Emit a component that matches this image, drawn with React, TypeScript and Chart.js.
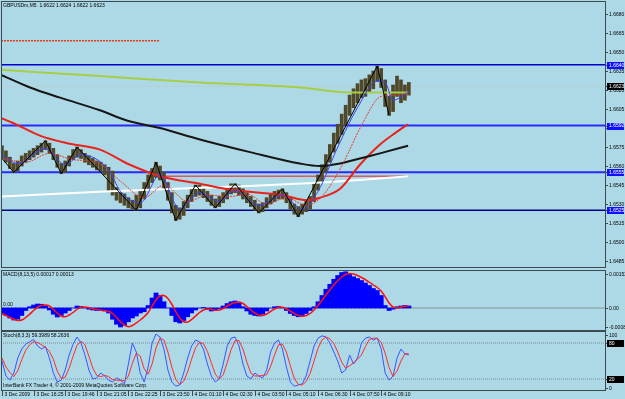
import React, { useEffect, useRef } from "react";
import { Chart, registerables } from "chart.js";
Chart.register(...registerables);

// ---------- DATA (10-minute bars, index 0..103) ----------
const HIGH = [1.6576,1.6572,1.6567,1.6562,1.6564,1.6568,1.6570,1.6572,1.6574,1.6576,1.6578,1.6580,1.6578,1.6574,1.6569,1.6562,1.6564,1.6568,1.6573,1.6575,1.6573,1.6570,1.6568,1.6566,1.6564,1.6563,1.6561,1.6559,1.6556,1.6543,1.6539,1.6538,1.6535,1.6533,1.6537,1.6541,1.6547,1.6553,1.6558,1.6563,1.6560,1.6555,1.6547,1.6539,1.6529,1.6527,1.6532,1.6537,1.6542,1.6545,1.6545,1.6543,1.6540,1.6537,1.6534,1.6536,1.6539,1.6543,1.6546,1.6546,1.6545,1.6542,1.6539,1.6536,1.6533,1.6530,1.6531,1.6535,1.6538,1.6540,1.6541,1.6542,1.6539,1.6535,1.6530,1.6528,1.6530,1.6532,1.6536,1.6546,1.6553,1.6561,1.6569,1.6577,1.6586,1.6593,1.6601,1.6608,1.6616,1.6621,1.6625,1.6628,1.6629,1.6632,1.6635,1.6639,1.6637,1.6628,1.6615,1.6624,1.6631,1.6628,1.6624,1.6626];
const LOW = [1.6566,1.6563,1.6558,1.6555,1.6556,1.6560,1.6563,1.6565,1.6567,1.6569,1.6571,1.6573,1.6570,1.6565,1.6559,1.6554,1.6555,1.6560,1.6565,1.6567,1.6566,1.6563,1.6561,1.6559,1.6557,1.6556,1.6553,1.6540,1.6537,1.6533,1.6531,1.6529,1.6527,1.6526,1.6525,1.6527,1.6534,1.6541,1.6547,1.6551,1.6549,1.6542,1.6533,1.6523,1.6517,1.6518,1.6521,1.6527,1.6532,1.6536,1.6537,1.6535,1.6532,1.6529,1.6527,1.6528,1.6531,1.6534,1.6538,1.6539,1.6537,1.6534,1.6531,1.6528,1.6525,1.6523,1.6524,1.6527,1.6530,1.6532,1.6534,1.6534,1.6531,1.6526,1.6522,1.6520,1.6522,1.6524,1.6526,1.6532,1.6541,1.6547,1.6555,1.6563,1.6571,1.6578,1.6585,1.6592,1.6600,1.6606,1.6610,1.6614,1.6615,1.6618,1.6621,1.6627,1.6622,1.6607,1.6600,1.6603,1.6615,1.6610,1.6612,1.6616];

const ZZ_IDX = [0, 3, 11, 15, 19, 34, 39, 44, 49, 54, 59, 65, 71, 75, 95, 98];
const ZZ_VAL = [1.6566, 1.6555, 1.6580, 1.6554, 1.6575, 1.6525, 1.6563, 1.6517, 1.6545, 1.6527, 1.6546, 1.6523, 1.6542, 1.6520, 1.6639, 1.6600];

const MA_FAST_IDX = [0, 4, 11, 16, 20, 27, 30, 35, 40, 45, 50, 55, 59, 65, 71, 76, 80, 85, 90, 95, 97, 99, 103];
const MA_FAST = [1.6569, 1.6562, 1.6574, 1.6561, 1.6569, 1.6557, 1.6540, 1.6531, 1.6553, 1.6526, 1.6539, 1.6532, 1.6541, 1.6529, 1.6537, 1.6526, 1.6540, 1.6575, 1.6606, 1.6627, 1.6626, 1.6612, 1.6619];
const MA_MID_IDX = [0, 6, 12, 18, 24, 30, 36, 41, 47, 52, 58, 62, 67, 72, 77, 81, 86, 91, 96, 100, 103];
const MA_MID = [1.6566, 1.6563, 1.6570, 1.6565, 1.6563, 1.6548, 1.6535, 1.6545, 1.6532, 1.6537, 1.6536, 1.6538, 1.6530, 1.6535, 1.6529, 1.6536, 1.6560, 1.6592, 1.6615, 1.6616, 1.6617];
const MA_BLACK_IDX = [-0.25, 7.1, 14.7, 24.8, 31.6, 40, 50.1, 62.8, 75.4, 80.5, 85.6, 90.6, 95.7, 102.8];
const MA_BLACK = [1.6632, 1.6622, 1.6614, 1.6604, 1.6596, 1.6590, 1.6581, 1.6571, 1.6562, 1.6560, 1.6562, 1.6566, 1.6570, 1.6576];
const MA_RED_IDX = [-0.25, 2.8, 9.6, 16.5, 24.8, 32.4, 40, 50.1, 58.5, 71.1, 77.2, 80.5, 85.6, 90.6, 95.7, 99.5, 102.8];
const MA_RED = [1.6598, 1.6594, 1.6584, 1.6578, 1.6573, 1.6561, 1.6552, 1.6546, 1.6541, 1.6537, 1.6533, 1.6535, 1.6542, 1.6561, 1.6577, 1.6586, 1.6593];
const MA_WHITE_IDX = [-0.25, 27.3, 80.5, 102.8];
const MA_WHITE = [1.6536, 1.6540, 1.6547, 1.6552];
const MA_GREEN_IDX = [-0.25, 24.8, 50.1, 75.4, 88.1, 102.8];
const MA_GREEN = [1.6636, 1.6631, 1.6626, 1.6622, 1.6618, 1.6618];

const LEVELS = [1.6640, 1.6592, 1.6555, 1.6525];
const LEVEL_COLORS = ["#0000d0", "#2a2aff", "#2a2aff", "#000088"];
const LEVEL_WIDTHS = [1.5, 2, 2, 1.5];
const LAST_PRICE = 1.6623;
const RED_DOT_LEVEL = 1.6659;
const RED_DOT_RANGE = [-0.25, 40];
const RED_THIN_LEVEL = 1.6552;
const RED_THIN_RANGE = [37, 102.8];

const MAIN_TICKS = [1.6680, 1.6665, 1.6650, 1.6635, 1.6620, 1.6605, 1.6590, 1.6575, 1.6560, 1.6545, 1.6530, 1.6515, 1.6500, 1.6485];

const MACD_HIST = [-0.00025,-0.00030,-0.00040,-0.00048,-0.00045,-0.00030,-0.00010,0.00005,0.00012,0.00016,0.00015,0.00008,-0.00008,-0.00025,-0.00036,-0.00030,-0.00020,-0.00010,0.00000,0.00008,0.00006,0.00000,-0.00005,-0.00008,-0.00010,-0.00010,-0.00012,-0.00020,-0.00045,-0.00065,-0.00076,-0.00070,-0.00055,-0.00040,-0.00032,-0.00020,-0.00015,0.00010,0.00040,0.00060,0.00050,0.00025,0.00000,-0.00030,-0.00055,-0.00060,-0.00050,-0.00035,-0.00020,-0.00008,0.00000,0.00002,-0.00005,-0.00012,-0.00010,-0.00002,0.00008,0.00018,0.00025,0.00028,0.00020,0.00005,-0.00012,-0.00025,-0.00030,-0.00032,-0.00025,-0.00012,0.00000,0.00005,0.00006,0.00000,-0.00010,-0.00022,-0.00030,-0.00035,-0.00032,-0.00022,-0.00010,0.00005,0.00025,0.00050,0.00075,0.00095,0.00115,0.00130,0.00142,0.00145,0.00135,0.00125,0.00118,0.00110,0.00100,0.00090,0.00078,0.00070,0.00050,0.00010,-0.00010,-0.00005,0.00005,0.00008,0.00010,0.00008];
const MACD_SIGNAL = [-0.00022,-0.00030,-0.00038,-0.00045,-0.00050,-0.00048,-0.00038,-0.00025,-0.00010,0.00003,0.00010,0.00012,0.00008,-0.00005,-0.00020,-0.00032,-0.00035,-0.00028,-0.00018,-0.00005,0.00003,0.00004,0.00001,-0.00003,-0.00006,-0.00008,-0.00010,-0.00013,-0.00022,-0.00038,-0.00055,-0.00068,-0.00075,-0.00070,-0.00060,-0.00048,-0.00035,-0.00018,0.00008,0.00032,0.00048,0.00050,0.00038,0.00015,-0.00015,-0.00040,-0.00055,-0.00056,-0.00046,-0.00032,-0.00018,-0.00008,-0.00004,-0.00006,-0.00009,-0.00008,-0.00002,0.00008,0.00016,0.00022,0.00024,0.00018,0.00006,-0.00008,-0.00020,-0.00028,-0.00030,-0.00024,-0.00014,-0.00004,0.00002,0.00003,-0.00003,-0.00012,-0.00022,-0.00030,-0.00033,-0.00030,-0.00022,-0.00008,0.00010,0.00030,0.00052,0.00072,0.00092,0.00110,0.00124,0.00134,0.00138,0.00136,0.00130,0.00122,0.00113,0.00103,0.00092,0.00082,0.00068,0.00045,0.00020,0.00004,0.00000,0.00004,0.00007,0.00008];
const MACD_TICKS = [0.00152, 0, -0.00086];
const MACD_TICK_LABELS = ["0.00152", "0.00", "-0.00086"];

const STOCH_MAIN = [50,25,18,30,55,70,78,82,86,75,70,74,55,30,15,18,35,60,78,90,80,60,35,20,22,30,25,18,15,22,18,12,45,80,65,30,15,40,80,95,90,70,35,15,8,10,30,55,75,85,82,70,45,25,15,20,45,75,88,90,75,45,25,20,30,25,22,35,65,80,85,70,40,15,8,10,12,25,50,75,88,92,90,80,65,50,30,35,60,45,55,80,88,90,85,88,70,30,18,25,55,70,62,60];
const STOCH_SIGNAL = [55,40,31,24,34,52,68,77,82,81,77,73,66,53,33,21,23,38,58,76,83,77,58,38,26,24,26,24,19,18,18,17,25,46,63,58,37,28,45,72,88,85,65,40,19,11,16,32,53,72,81,79,66,47,28,20,27,47,69,84,84,70,48,30,25,25,26,27,41,60,77,78,65,42,21,11,10,16,29,50,71,85,90,87,79,65,48,38,42,47,53,60,74,86,88,88,81,63,39,24,33,50,62,62];
const STOCH_TICKS = [100, 80, 20, 0];

const X_TICK_IDX = [0, 8, 16, 24, 32, 40, 48, 56, 64, 72, 80, 88, 96];
const X_TICK_LABELS = ["3 Dec 2009", "3 Dec 16:25", "3 Dec 19:46", "3 Dec 21:05", "3 Dec 22:25", "3 Dec 23:50", "4 Dec 01:10", "4 Dec 02:30", "4 Dec 03:50", "4 Dec 05:10", "4 Dec 06:30", "4 Dec 07:50", "4 Dec 09:10"];

const TITLE = "GBPUSDm,M5  1.6622 1.6624 1.6622 1.6623";
const MACD_TITLE = "MACD(8,13,5) 0.00017 0.00013";
const STOCH_TITLE = "Stoch(8,3,3) 59.3989 58.2636";
const COPYRIGHT = "InterBank FX Trader 4, \u00a9 2001-2009 MetaQuotes Software Corp.";

// ---------- STYLE ----------
const BG = "#ADD8E6";
const BORDER = "#3c4a52";
const FONT = '5px "Liberation Sans", Arial, sans-serif';
const X_MIN = -0.25;
const X_MAX = 152.91;

const pts = (xs: number[], ys: number[]) => xs.map((x, i) => ({ x, y: ys[i] }));
const hline = (v: number, a = X_MIN, b = X_MAX) => [{ x: a, y: v }, { x: b, y: v }];

function drawFrame(chart: any) {
  const { ctx, chartArea: a } = chart;
  ctx.save();
  ctx.strokeStyle = BORDER;
  ctx.lineWidth = 1;
  ctx.strokeRect(Math.round(a.left) + 0.5, Math.round(a.top) + 0.5, Math.round(a.right - a.left) - 1, Math.round(a.bottom - a.top) - 1);
  ctx.restore();
}

function rightLabel(chart: any, py: number, text: string, box?: string) {
  const { ctx, chartArea: a } = chart;
  ctx.save();
  ctx.font = FONT;
  ctx.textBaseline = "middle";
  ctx.strokeStyle = BORDER;
  ctx.lineWidth = 1;
  ctx.beginPath();
  ctx.moveTo(a.right - 1, Math.round(py) + 0.5);
  ctx.lineTo(a.right + 2, Math.round(py) + 0.5);
  ctx.stroke();
  if (box) {
    ctx.fillStyle = box;
    ctx.fillRect(a.right + 1, Math.round(py) - 3, 17, 7);
    ctx.fillStyle = "#ffffff";
  } else {
    ctx.fillStyle = "#000000";
  }
  ctx.fillText(text, a.right + 3, py + 0.5);
  ctx.restore();
}

const baseOptions = (yMin: number, yMax: number, pad: { top: number; bottom: number }) => ({
  animation: false as const,
  responsive: false,
  maintainAspectRatio: false,
  events: [] as any[],
  layout: { padding: { left: 1, right: 19, top: pad.top, bottom: pad.bottom } },
  plugins: { legend: { display: false }, tooltip: { enabled: false } },
  scales: {
    x: { type: "linear" as const, display: false, min: X_MIN, max: X_MAX, offset: false },
    y: { type: "linear" as const, display: false, min: yMin, max: yMax },
  },
});

const lineDs = (data: any[], color: string, width: number, order: number, extra: any = {}) => ({
  type: "line" as const,
  data,
  borderColor: color,
  borderWidth: width,
  pointRadius: 0,
  fill: false,
  order,
  ...extra,
});

const smooth = { tension: 0.4, cubicInterpolationMode: "monotone" };

export default function App() {
  const mainRef = useRef<HTMLCanvasElement>(null);
  const macdRef = useRef<HTMLCanvasElement>(null);
  const stochRef = useRef<HTMLCanvasElement>(null);

  useEffect(() => {
    const charts: Chart[] = [];

    // ---- MAIN ----
    const mainDecor = {
      id: "mainDecor",
      afterDraw(chart: any) {
        drawFrame(chart);
        const y = chart.scales.y;
        MAIN_TICKS.forEach((v) => rightLabel(chart, y.getPixelForValue(v), v.toFixed(4)));
        LEVELS.forEach((v) => rightLabel(chart, y.getPixelForValue(v), v.toFixed(4), "#1010ff"));
        rightLabel(chart, y.getPixelForValue(LAST_PRICE), LAST_PRICE.toFixed(4), "#000000");
        const { ctx } = chart;
        ctx.save();
        ctx.font = FONT;
        ctx.fillStyle = "#000";
        ctx.textBaseline = "middle";
        ctx.fillText(TITLE, 3, 6);
        ctx.restore();
      },
    };
    charts.push(
      new Chart(mainRef.current!, {
        type: "line",
        data: {
          datasets: [
            lineDs(pts(ZZ_IDX, ZZ_VAL), "#000000", 1, 0),
            lineDs(pts(MA_FAST_IDX, MA_FAST), "#3c46f0", 1, 1, smooth),
            lineDs(pts(MA_MID_IDX, MA_MID), "#e83a2a", 1, 1, { ...smooth, borderDash: [2, 1] }),
            lineDs(pts(MA_GREEN_IDX, MA_GREEN), "#a6cf45", 2, 2, smooth),
            lineDs(pts(MA_BLACK_IDX, MA_BLACK), "#161616", 2, 2, smooth),
            lineDs(pts(MA_RED_IDX, MA_RED), "#e8231b", 2, 2, smooth),
            lineDs(pts(MA_WHITE_IDX, MA_WHITE), "#ffffff", 2, 2, smooth),
            {
              type: "bar" as const,
              data: HIGH.map((h, i) => ({ x: i, y: [LOW[i], h] })),
              backgroundColor: "#4f4829",
              borderWidth: 0,
              barThickness: 3,
              grouped: false,
              order: 3,
            },
            lineDs(hline(RED_DOT_LEVEL, RED_DOT_RANGE[0], RED_DOT_RANGE[1]), "#f03a10", 1.5, 4, { borderDash: [2, 1] }),
            lineDs(hline(RED_THIN_LEVEL, RED_THIN_RANGE[0], RED_THIN_RANGE[1]), "#e02020", 1, 4),
            lineDs(hline(LAST_PRICE), "#c4c4c4", 1, 5, { borderDash: [1, 1] }),
            ...LEVELS.map((v, i) => lineDs(hline(v), LEVEL_COLORS[i], LEVEL_WIDTHS[i], 5)),
          ] as any,
        },
        options: baseOptions(1.64795, 1.66903, { top: 1, bottom: 7 }) as any,
        plugins: [mainDecor],
      })
    );

    // ---- MACD ----
    const macdDecor = {
      id: "macdDecor",
      afterDraw(chart: any) {
        drawFrame(chart);
        const { ctx, chartArea: a } = chart;
        const y = chart.scales.y;
        MACD_TICKS.forEach((v, i) => {
          let py = y.getPixelForValue(v);
          py = Math.max(a.top + 4, Math.min(a.bottom - 4, py));
          rightLabel(chart, py, MACD_TICK_LABELS[i]);
        });
        ctx.save();
        ctx.font = FONT;
        ctx.fillStyle = "#000";
        ctx.textBaseline = "middle";
        ctx.fillText(MACD_TITLE, 3, a.top + 5);
        ctx.fillText("0.00", 3, y.getPixelForValue(0) - 3);
        ctx.restore();
      },
    };
    charts.push(
      new Chart(macdRef.current!, {
        type: "line",
        data: {
          datasets: [
            lineDs(pts(MACD_SIGNAL.map((_, i) => i), MACD_SIGNAL), "#ff1010", 1.5, 0, { tension: 0.3 }),
            {
              type: "bar" as const,
              data: MACD_HIST.map((v, i) => ({ x: i, y: v })),
              backgroundColor: "#0000ff",
              borderWidth: 0,
              barThickness: 4.2,
              grouped: false,
              order: 1,
            },
            lineDs(hline(0), "#8696a0", 1, 2),
          ] as any,
        },
        options: baseOptions(-0.00092, 0.00152, { top: 8, bottom: 6 }) as any,
        plugins: [macdDecor],
      })
    );

    // ---- STOCH ----
    const stochDecor = {
      id: "stochDecor",
      afterDraw(chart: any) {
        drawFrame(chart);
        const { ctx, chartArea: a } = chart;
        const y = chart.scales.y;
        const x = chart.scales.x;
        STOCH_TICKS.forEach((v) => {
          let py = y.getPixelForValue(v);
          py = Math.max(a.top + 4, Math.min(a.bottom - 3, py));
          rightLabel(chart, py, String(v), v === 80 || v === 20 ? "#000000" : undefined);
        });
        ctx.save();
        ctx.font = FONT;
        ctx.fillStyle = "#000";
        ctx.textBaseline = "middle";
        ctx.fillText(STOCH_TITLE, 3, a.top + 5);
        ctx.fillText(COPYRIGHT, 3, a.bottom - 5);
        ctx.strokeStyle = BORDER;
        ctx.lineWidth = 1;
        X_TICK_IDX.forEach((idx, i) => {
          const px = Math.round(x.getPixelForValue(idx)) + 0.5;
          ctx.beginPath();
          ctx.moveTo(px, a.bottom);
          ctx.lineTo(px, a.bottom + 5);
          ctx.stroke();
          ctx.fillText(X_TICK_LABELS[i], px + 2, a.bottom + 4);
        });
        ctx.restore();
      },
    };
    charts.push(
      new Chart(stochRef.current!, {
        type: "line",
        data: {
          datasets: [
            lineDs(pts(STOCH_SIGNAL.map((_, i) => i), STOCH_SIGNAL), "#ff2a2a", 1, 0),
            lineDs(pts(STOCH_MAIN.map((_, i) => i), STOCH_MAIN), "#3a55ff", 1, 1),
            lineDs(hline(80), "#7a8a96", 1, 2, { borderDash: [1, 1] }),
            lineDs(hline(20), "#7a8a96", 1, 2, { borderDash: [1, 1] }),
          ] as any,
        },
        options: baseOptions(0, 100, { top: 6, bottom: 8 }) as any,
        plugins: [stochDecor],
      })
    );

    return () => charts.forEach((c) => c.destroy());
  }, []);

  const cv = (top: number, h: number): React.CSSProperties => ({ position: "absolute", left: 0, top, width: 625, height: h });

  return (
    <div style={{ position: "fixed", left: 0, top: 0, width: 625, height: 399, background: BG, overflow: "hidden" }}>
      <canvas ref={mainRef} width={625} height={275} style={cv(0, 275)} />
      <canvas ref={macdRef} width={625} height={75} style={cv(262, 75)} />
      <canvas ref={stochRef} width={625} height={74} style={cv(325, 74)} />
    </div>
  );
}
